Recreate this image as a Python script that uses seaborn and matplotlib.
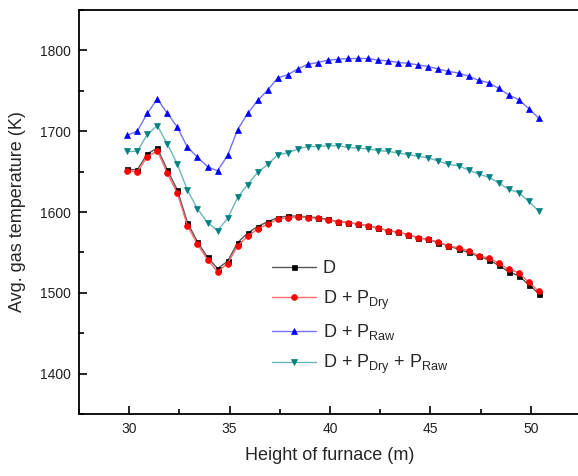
import numpy as np
import pandas as pd
import matplotlib as mpl
import matplotlib.pyplot as plt
import seaborn as sns
from matplotlib.ticker import MultipleLocator

sns.set_style('ticks')
mpl.rcParams['font.family'] = ['Liberation Sans', 'DejaVu Sans']
mpl.rcParams['mathtext.fontset'] = 'custom'
mpl.rcParams['mathtext.rm'] = 'Liberation Sans'
mpl.rcParams['mathtext.it'] = 'Liberation Sans:italic'

# furnace height (m)
height = [29.9, 30.4, 30.9, 31.4, 31.9, 32.4, 32.9, 33.4, 33.9, 34.4,
          34.9, 35.4, 35.9, 36.4, 36.9, 37.4, 37.9, 38.4, 38.9, 39.4,
          39.9, 40.4, 40.9, 41.4, 41.9, 42.4, 42.9, 43.4, 43.9, 44.4,
          44.9, 45.4, 45.9, 46.4, 46.9, 47.4, 47.9, 48.4, 48.9, 49.4,
          49.9, 50.4]

t_d = [1653, 1652, 1672, 1679, 1652, 1627, 1587, 1563, 1544, 1530,
       1539, 1562, 1574, 1582, 1588, 1593, 1595, 1595, 1594, 1593,
       1591, 1588, 1587, 1585, 1583, 1580, 1577, 1575, 1572, 1568,
       1566, 1562, 1558, 1554, 1550, 1545, 1541, 1534, 1526, 1521,
       1510, 1499]
t_dry = [1651, 1650, 1668, 1676, 1648, 1623, 1583, 1560, 1541, 1526,
         1536, 1558, 1570, 1579, 1585, 1591, 1593, 1594, 1593, 1592,
         1590, 1588, 1587, 1585, 1583, 1580, 1577, 1575, 1572, 1568,
         1566, 1563, 1558, 1556, 1552, 1546, 1543, 1537, 1529, 1525,
         1513, 1502]
t_raw = [1695, 1700, 1722, 1740, 1722, 1705, 1680, 1668, 1656, 1651,
         1670, 1702, 1722, 1738, 1751, 1766, 1770, 1777, 1783, 1785,
         1788, 1789, 1790, 1790, 1790, 1788, 1787, 1785, 1784, 1782,
         1780, 1777, 1774, 1772, 1768, 1763, 1760, 1753, 1745, 1739,
         1728, 1716]
t_both = [1675, 1675, 1696, 1707, 1684, 1659, 1627, 1604, 1587, 1577,
          1592, 1618, 1634, 1649, 1659, 1671, 1673, 1678, 1681, 1681,
          1682, 1682, 1680, 1679, 1678, 1676, 1675, 1673, 1671, 1669,
          1667, 1663, 1659, 1657, 1652, 1647, 1643, 1636, 1628, 1624,
          1613, 1601]

labels = ['D', r'D + P$_{\mathrm{Dry}}$', r'D + P$_{\mathrm{Raw}}$',
          r'D + P$_{\mathrm{Dry}}$ + P$_{\mathrm{Raw}}$']

styles = [
    (t_d, 's', '#000000', '#555555', 3.6),
    (t_dry, 'o', '#ff0000', '#ff6a6a', 4.2),
    (t_raw, '^', '#0000ff', '#7373ff', 5),
    (t_both, 'v', '#008080', '#6ab8b8', 5),
]

fig = plt.figure(figsize=(5.78, 4.76), dpi=100)
ax = fig.add_axes([79 / 578, 62 / 476, 502 / 578, 404 / 476])

for (vals, mk, c, lc, ms), lab in zip(styles, labels):
    df = pd.DataFrame({'h': height, 't': vals})
    sns.lineplot(data=df, x='h', y='t', ax=ax, color=lc, lw=1,
                 marker=mk, markersize=ms, markerfacecolor=c,
                 markeredgecolor=c, markeredgewidth=0.5, label=lab)

ax.set_xlim(27.5, 52.5)
ax.set_ylim(1350, 1850)
ax.xaxis.set_major_locator(MultipleLocator(5))
ax.xaxis.set_minor_locator(MultipleLocator(2.5))
ax.yaxis.set_major_locator(MultipleLocator(100))
ax.yaxis.set_minor_locator(MultipleLocator(50))
ax.tick_params(which='both', direction='in', labelsize=10, width=1.2,
               colors='#000000', labelcolor='#222222', pad=6)
ax.tick_params(which='major', length=6)
ax.tick_params(which='minor', length=3.5)
for s in ax.spines.values():
    s.set_visible(True)
    s.set_linewidth(1.3)
    s.set_color('#000000')
ax.spines['right'].set_visible(False)

ax.set_xlabel('Height of furnace (m)', fontsize=13, labelpad=8)
ax.set_ylabel('Avg. gas temperature (K)', fontsize=13, labelpad=10)

ax.legend(loc='upper left', bbox_to_anchor=(0.385, 0.38), frameon=False,
          fontsize=13, handlelength=2.4, handletextpad=0.4,
          labelspacing=0.6, borderpad=0, borderaxespad=0)

fig.savefig('out.png', dpi=100)
